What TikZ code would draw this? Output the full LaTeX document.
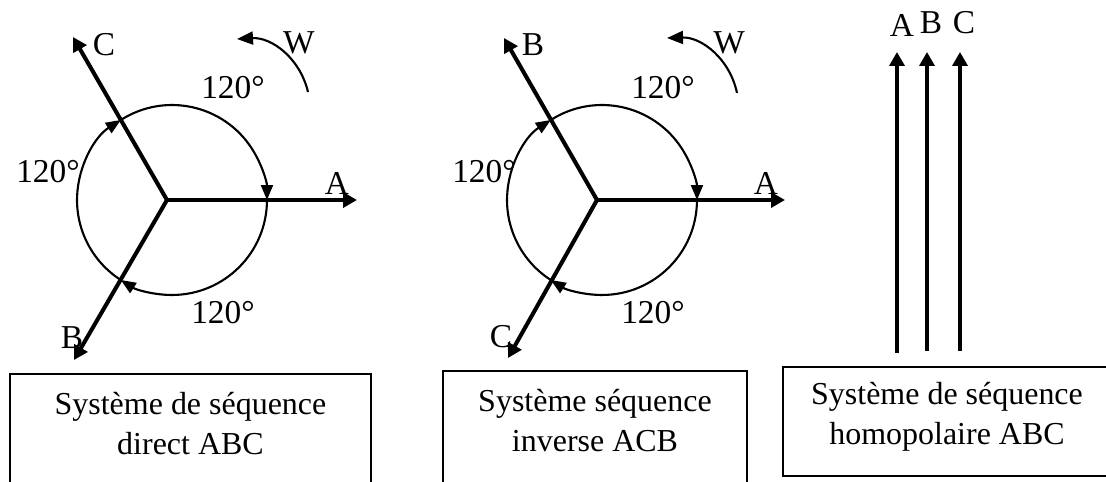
\documentclass[tikz,border=0pt]{standalone}
\usepackage{fontspec}
\setmainfont{Liberation Serif}
\usetikzlibrary{arrows.meta,positioning}

\tikzset{
    phasor/.style={line width=2.3pt, -{Triangle[length=0.28cm,width=0.3cm]}},
    turn/.style={line width=1.2pt, -{Triangle[length=0.3cm,width=0.24cm]}},
    spin/.style={line width=1.2pt, -{Triangle[length=0.32cm,width=0.26cm]}},
    lbl/.style={inner sep=0pt, font=\fontsize{19}{22}\selectfont},
    sysbox/.style={rectangle, draw, line width=1.3pt, inner sep=0pt},
    systext/.style={align=center, inner sep=0pt, font=\fontsize{18.2}{22.7}\selectfont}
}

\begin{document}
\begin{tikzpicture}[x=0.02cm, y=0.02cm]
    \useasboundingbox (0,0) rectangle (1106,481);
    \clip (0,0) rectangle (1106,481);

    % Direct sequence
    \coordinate (O1) at (167,281);
    \coordinate (A1) at (357,281);
    \coordinate (C1) at (73,444);
    \coordinate (B1) at (74,121);
    \coordinate (M1) at (172,281);
    \draw[phasor] (O1) -- (A1);
    \draw[phasor] (O1) -- (C1);
    \draw[phasor] (O1) -- (B1);
    \draw[turn] ([shift={(122.6:1.9cm)}]M1) arc[start angle=122.6, end angle=0, radius=1.9cm];
    \draw[turn] ([shift={(0:1.9cm)}]M1) arc[start angle=0, end angle=-122.6, radius=1.9cm];
    \draw[turn] ([shift={(237.4:1.9cm)}]M1) arc[start angle=237.4, end angle=122.6, radius=1.9cm];
    \node (la1) [lbl] at (337,298) {A};
    \node (lc1) [lbl] at (104,436) {C};
    \node (lb1) [lbl] at (72,143) {B};
    \node (top1) [lbl] at (233,393) {120°};
    \node (left1) [lbl] at (48,309) {120°};
    \node (bot1) [lbl] at (223,168) {120°};
    \coordinate (w1a) at (308,389);
    \coordinate (w1b) at (237,442);
    \draw[spin] (w1a) to[bend right=40] (w1b);
    \node (w1) [lbl] at (299,438) {W};

    % Inverse sequence
    \coordinate (O2) at (597,281);
    \coordinate (A2) at (785,281);
    \coordinate (B2) at (504,443);
    \coordinate (C2) at (508,123);
    \coordinate (M2) at (602,281);
    \draw[phasor] (O2) -- (A2);
    \draw[phasor] (O2) -- (B2);
    \draw[phasor] (O2) -- (C2);
    \draw[turn] ([shift={(122.6:1.9cm)}]M2) arc[start angle=122.6, end angle=0, radius=1.9cm];
    \draw[turn] ([shift={(0:1.9cm)}]M2) arc[start angle=0, end angle=-122.6, radius=1.9cm];
    \draw[turn] ([shift={(237.4:1.9cm)}]M2) arc[start angle=237.4, end angle=122.6, radius=1.9cm];
    \node (la2) [lbl] at (766,298) {A};
    \node (lb2) [lbl] at (533,436) {B};
    \node (lc2) [lbl] at (501,144) {C};
    \node (top2) [lbl] at (663,393) {120°};
    \node (left2) [lbl] at (484,309) {120°};
    \node (bot2) [lbl] at (653,168) {120°};
    \coordinate (w2a) at (737,388);
    \coordinate (w2b) at (667,443);
    \draw[spin] (w2a) to[bend right=40] (w2b);
    \node (w2) [lbl] at (729,438) {W};

    % Zero sequence
    \coordinate (A3s) at (897,128);
    \coordinate (A3e) at (897,429);
    \coordinate (B3s) at (927,130);
    \coordinate (B3e) at (927,429);
    \coordinate (C3s) at (960,130);
    \coordinate (C3e) at (960,429);
    \draw[phasor] (A3s) -- (A3e);
    \draw[phasor] (B3s) -- (B3e);
    \draw[phasor] (C3s) -- (C3e);
    \node (la3) [lbl] at (902,456) {A};
    \node (lb3) [lbl] at (931,458) {B};
    \node (lc3) [lbl] at (964,458) {C};

    % Captions
    \node (box1) [sysbox, minimum width=7.22cm, minimum height=2.34cm] at (190.5,48.5) {};
    \node (sys1) [systext, below=0.38cm of box1.north] {Système de séquence\\direct ABC};
    \node (box2) [sysbox, minimum width=6.08cm, minimum height=2.4cm] at (595,50) {};
    \node (sys2) [systext, below=0.38cm of box2.north] {Système séquence\\inverse ACB};
    \node (box3) [sysbox, minimum width=6.9cm, minimum height=2.18cm] at (955.5,59.5) {};
    \node (sys3) [systext, below=0.32cm of box3.north, xshift=-0.17cm] {Système de séquence\\homopolaire ABC};
\end{tikzpicture}
\end{document}
